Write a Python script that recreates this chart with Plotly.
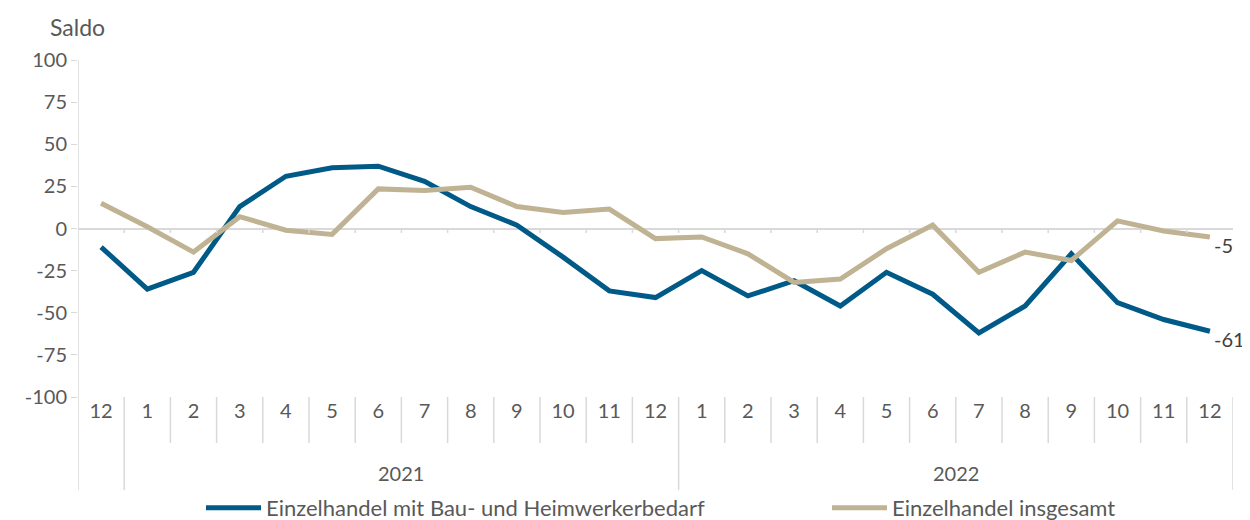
import plotly.graph_objects as go

months = ["12", "1", "2", "3", "4", "5", "6", "7", "8", "9", "10", "11", "12",
          "1", "2", "3", "4", "5", "6", "7", "8", "9", "10", "11", "12"]
years = ["2021", "2022"]
year_centers = [6.5, 18.5]
y_ticks = [100, 75, 50, 25, 0, -25, -50, -75, -100]
y_ticktext = ["100", "75", "50", "25", "0", "-25", "-50", "-75", "-100"]

bau = [-11, -36, -26, 13, 31, 36, 37, 28, 13, 2, -17, -37, -41,
       -25, -40, -31, -46, -26, -39, -62, -46, -15, -44, -54, -61]
gesamt = [15, 1, -14, 7, -1, -3.5, 23.5, 22.5, 24.5, 13, 9.5, 11.5, -6,
          -5, -15, -32, -30, -12, 2, -26, -14, -19, 4.5, -1.5, -5]

name_bau = "Einzelhandel mit Bau- und Heimwerkerbedarf"
name_ges = "Einzelhandel insgesamt"
col_bau = "#005A87"
col_ges = "#C0B393"
grey = "#D9D9D9"
txt = "#595959"
FONT = "Lato"

# the page adds an 8px body margin, so the figure is 8px smaller than the window
W, H = 1242, 512

x = list(range(len(months)))

fig = go.Figure()
fig.add_trace(go.Scatter(x=x, y=bau, mode="lines", name=name_bau, legend="legend",
                         line=dict(color=col_bau, width=5)))
fig.add_trace(go.Scatter(x=x, y=gesamt, mode="lines", name=name_ges, legend="legend2",
                         line=dict(color=col_ges, width=5)))

shapes = []
n = len(months)
bottom_short = -(443 - 397) / 337
bottom_long = -(490 - 397) / 337
shapes.append(dict(type="line", xref="x", yref="paper", x0=-0.5, x1=-0.5,
                   y0=1, y1=bottom_long, line=dict(color=grey, width=1.5)))
shapes.append(dict(type="line", xref="x", yref="paper", x0=n - 0.5, x1=n - 0.5,
                   y0=0, y1=bottom_long, line=dict(color=grey, width=1.5)))
for k in range(n - 1):
    b = k + 0.5
    long_ = (months[k] == "12")
    shapes.append(dict(type="line", xref="x", yref="paper", x0=b, x1=b,
                       y0=0, y1=bottom_long if long_ else bottom_short,
                       line=dict(color=grey, width=1.5)))
    shapes.append(dict(type="line", xref="x", yref="y", x0=b, x1=b,
                       y0=0, y1=-2.6, line=dict(color=grey, width=1.5)))

annotations = []
for yr, c in zip(years, year_centers):
    annotations.append(dict(text=yr, x=c, xref="x", y=-(473 - 397) / 337, yref="paper",
                            showarrow=False, font=dict(family=FONT, size=20, color=txt),
                            xanchor="center", yanchor="middle"))
annotations.append(dict(text="Saldo", x=(48 - 78) / 1155, xref="paper",
                        y=1 + (60 - 27) / 337, yref="paper", showarrow=False,
                        xanchor="left", yanchor="middle",
                        font=dict(family=FONT, size=23, color=txt)))
for series in (bau, gesamt):
    annotations.append(dict(text=f"{series[-1]:g}", x=x[-1], y=series[-1], xref="x", yref="y",
                            showarrow=False, xanchor="left", yanchor="middle",
                            xshift=3, yshift=-8, borderpad=0,
                            font=dict(family=FONT, size=20, color="#404040")))

leg_common = dict(orientation="h", yref="container", y=(512 - 500) / 512,
                  xref="container", xanchor="left", yanchor="middle",
                  font=dict(family=FONT, size=22, color=txt), itemwidth=55,
                  bgcolor="rgba(0,0,0,0)")

fig.update_layout(
    width=W, height=H,
    margin=dict(l=70, r=17, t=52, b=123, autoexpand=False),
    plot_bgcolor="white", paper_bgcolor="white",
    font=dict(family=FONT, size=20, color=txt),
    showlegend=True,
    legend=dict(x=(207 - 8 - 6) / W, **leg_common),
    legend2=dict(x=(833 - 8 - 6) / W, **leg_common),
    xaxis=dict(range=[-0.5, n - 0.5], tickmode="array", tickvals=x, ticktext=months,
               showgrid=False, zeroline=False, showline=False, ticks="",
               automargin=False,
               tickfont=dict(family=FONT, size=20, color=txt), fixedrange=True),
    yaxis=dict(range=[-100, 100], tickmode="array", tickvals=y_ticks, ticktext=y_ticktext,
               showgrid=False, automargin=False,
               zeroline=True, zerolinecolor=grey, zerolinewidth=1.5,
               showline=False, ticks="outside", ticklen=6, tickcolor=grey,
               tickfont=dict(family=FONT, size=20, color=txt), fixedrange=True),
    shapes=shapes, annotations=annotations,
)

fig.write_html("out.html")
